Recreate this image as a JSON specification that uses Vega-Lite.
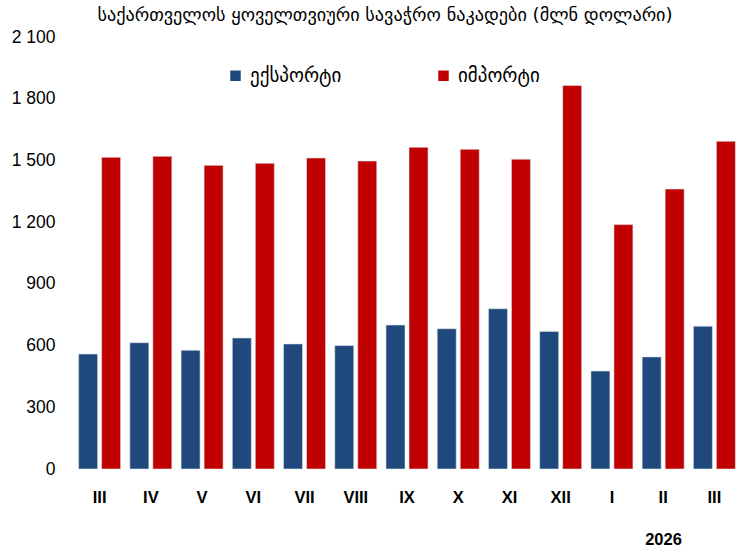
{
  "$schema": "https://vega.github.io/schema/vega-lite/v6.json",
  "width": 666,
  "height": 432,
  "autosize": {"type": "none"},
  "padding": {"left": 74, "top": 37, "right": 7, "bottom": 85},
  "background": "white",
  "title": {
    "text": "საქართველოს ყოველთვიური სავაჭრო ნაკადები (მლნ დოლარი)",
    "font": "DejaVu Sans",
    "fontSize": 18.2,
    "fontWeight": "normal",
    "color": "#000000",
    "anchor": "middle",
    "dx": -22,
    "offset": 3
  },
  "data": {
    "values": [
      {"m": "III 2025", "s": "ექსპორტი", "v": 559},
      {"m": "III 2025", "s": "იმპორტი", "v": 1515},
      {"m": "IV 2025", "s": "ექსპორტი", "v": 614},
      {"m": "IV 2025", "s": "იმპორტი", "v": 1520},
      {"m": "V 2025", "s": "ექსპორტი", "v": 577},
      {"m": "V 2025", "s": "იმპორტი", "v": 1476},
      {"m": "VI 2025", "s": "ექსპორტი", "v": 637},
      {"m": "VI 2025", "s": "იმპორტი", "v": 1486},
      {"m": "VII 2025", "s": "ექსპორტი", "v": 608},
      {"m": "VII 2025", "s": "იმპორტი", "v": 1512},
      {"m": "VIII 2025", "s": "ექსპორტი", "v": 600},
      {"m": "VIII 2025", "s": "იმპორტი", "v": 1497},
      {"m": "IX 2025", "s": "ექსპორტი", "v": 700},
      {"m": "IX 2025", "s": "იმპორტი", "v": 1564},
      {"m": "X 2025", "s": "ექსპორტი", "v": 682},
      {"m": "X 2025", "s": "იმპორტი", "v": 1554},
      {"m": "XI 2025", "s": "ექსპორტი", "v": 779},
      {"m": "XI 2025", "s": "იმპორტი", "v": 1506},
      {"m": "XII 2025", "s": "ექსპორტი", "v": 669},
      {"m": "XII 2025", "s": "იმპორტი", "v": 1864},
      {"m": "I 2026", "s": "ექსპორტი", "v": 476},
      {"m": "I 2026", "s": "იმპორტი", "v": 1188},
      {"m": "II 2026", "s": "ექსპორტი", "v": 545},
      {"m": "II 2026", "s": "იმპორტი", "v": 1361},
      {"m": "III 2026", "s": "ექსპორტი", "v": 694},
      {"m": "III 2026", "s": "იმპორტი", "v": 1593}
    ]
  },
  "mark": {"type": "bar", "stroke": "#dfe3ea", "strokeWidth": 0.6},
  "encoding": {
    "x": {
      "field": "m",
      "type": "nominal",
      "sort": null,
      "scale": {"paddingInner": 0.18, "paddingOuter": 0.09},
      "axis": {
        "title": "2026",
        "titleFont": "Liberation Sans",
        "titleFontSize": 16.5,
        "titleFontWeight": "bold",
        "titleColor": "#000000",
        "titleX": 589,
        "titleY": 62,
        "titleAnchor": "middle",
        "titleAlign": "center",
        "titleBaseline": "top",
        "labelExpr": "split(datum.label, ' ')[0]",
        "labelAngle": 0,
        "labelFont": "Liberation Sans",
        "labelFontSize": 16.5,
        "labelFontWeight": "bold",
        "labelColor": "#000000",
        "labelPadding": 20,
        "domain": false,
        "ticks": false,
        "grid": false
      }
    },
    "xOffset": {
      "field": "s",
      "type": "nominal",
      "sort": ["ექსპორტი", "იმპორტი"],
      "scale": {"paddingInner": 0.174, "paddingOuter": 0}
    },
    "y": {
      "field": "v",
      "type": "quantitative",
      "scale": {"domain": [0, 2100], "nice": false},
      "axis": {
        "title": null,
        "values": [0, 300, 600, 900, 1200, 1500, 1800, 2100],
        "labelExpr": "replace(format(datum.value, ','), ',', ' ')",
        "labelFont": "Liberation Sans",
        "labelFontSize": 17.5,
        "labelColor": "#000000",
        "labelPadding": 19,
        "domain": false,
        "ticks": false,
        "grid": false
      }
    },
    "color": {
      "field": "s",
      "type": "nominal",
      "sort": ["ექსპორტი", "იმპორტი"],
      "scale": {"domain": ["ექსპორტი", "იმპორტი"], "range": ["#1F497D", "#C00000"]},
      "legend": {
        "title": null,
        "orient": "none",
        "legendX": 152,
        "legendY": 29,
        "direction": "horizontal",
        "symbolType": "square",
        "symbolSize": 110,
        "symbolStrokeWidth": 0,
        "labelFont": "DejaVu Sans",
        "labelFontSize": 19,
        "labelColor": "#000000",
        "labelOffset": 5,
        "columnPadding": 92
      }
    }
  },
  "config": {"view": {"stroke": null}}
}
